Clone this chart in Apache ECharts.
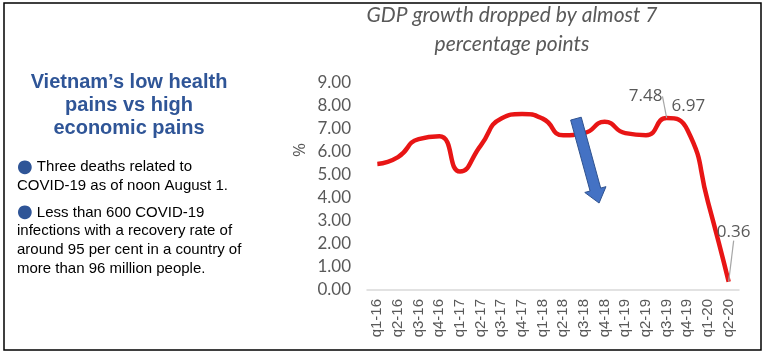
<!DOCTYPE html>
<html>
<head>
<meta charset="utf-8">
<script src="https://cdn.jsdelivr.net/npm/echarts@6/dist/echarts.min.js"></script>
<style>
  html, body { margin: 0; padding: 0; background: #fff; }
  #chart { width: 766px; height: 354px; }
</style>
</head>
<body>
<div id="chart"></div>
<script>
// quarterly GDP growth, % yoy
const quarters = ['q1-16', 'q2-16', 'q3-16', 'q4-16', 'q1-17', 'q2-17', 'q3-17', 'q4-17', 'q1-18',
  'q2-18', 'q3-18', 'q4-18', 'q1-19', 'q2-19', 'q3-19', 'q4-19', 'q1-20', 'q2-20'];
const growth = [5.48, 5.78, 6.56, 6.68, 5.15, 6.28, 7.46, 7.65, 7.45,
  6.73, 6.82, 7.31, 6.82, 6.73, 7.48, 6.97, 3.82, 0.36];
const labelled = [14, 15, 17];
// arrow annotation: [fromIndex, fromValue, toIndex, toValue]
const arrow = [[9.61, 7.45, 10.73, 3.78]];

const titleLines = ['GDP growth dropped by almost 7', 'percentage points'];
const headLines = ['Vietnam\u2019s low health', 'pains vs high', 'economic pains'];
const bulletLines = [
  ['Three deaths related to', 'COVID-19 as of noon August 1.'],
  ['Less than 600 COVID-19', 'infections with a recovery rate of', 'around 95 per cent in a country of', 'more than 96 million people.']
];

const grey = '#595959';
const blue = '#2f5597';

const graphics = [
  { type: 'rect', shape: { x: 4, y: 3, width: 757, height: 347 },
    style: { fill: 'none', stroke: '#000', lineWidth: 1.5 } }
];
titleLines.forEach((t, i) => graphics.push({
  type: 'text', x: 512, y: 15 + i * 29,
  style: { text: t, fill: grey, font: 'italic 21px Lato', textAlign: 'center', textVerticalAlign: 'middle' }
}));
headLines.forEach((t, i) => graphics.push({
  type: 'text', x: 129, y: 82 + i * 23,
  style: { text: t, fill: blue, font: 'bold 20px "Liberation Sans"', textAlign: 'center', textVerticalAlign: 'middle' }
}));
let ly = 167;
bulletLines.forEach((lines, bi) => {
  if (bi > 0) ly += 8;
  lines.forEach((t, i) => {
    graphics.push({
      type: 'text', x: 17, y: ly,
      style: {
        text: (i === 0 ? '{b|\u25CF} ' : '') + t,
        fill: '#000', font: '15px "Liberation Sans"', textVerticalAlign: 'middle',
        rich: { b: { fill: blue, font: '18px "DejaVu Sans"' } }
      }
    });
    ly += 18.7;
  });
});
graphics.push({
  type: 'text', x: 300, y: 150, rotation: Math.PI / 2,
  style: { text: '%', fill: grey, font: '17px "Open Sans"', textAlign: 'center', textVerticalAlign: 'middle' }
});

const labelOffsets = { 14: [-21, -8], 15: [1, -10], 17: [5, -36] };

const option = {
  animation: false,
  grid: { left: 367, right: 27, top: 83, bottom: 64 },
  xAxis: {
    type: 'category',
    data: quarters,
    axisLine: { lineStyle: { color: '#d9d9d9', width: 1.5 } },
    axisTick: { show: false },
    axisLabel: { rotate: 90, interval: 0, color: grey, fontSize: 15, fontFamily: 'Liberation Sans', margin: 9 }
  },
  yAxis: {
    type: 'value',
    min: 0, max: 9, interval: 1,
    splitLine: { show: false },
    axisLine: { show: false },
    axisTick: { show: false },
    axisLabel: { color: grey, fontSize: 17, fontFamily: 'Lato', margin: 16, formatter: v => v.toFixed(2) }
  },
  series: [
    {
      type: 'line',
      smooth: 0.55,
      symbol: 'circle',
      symbolSize: 0.1,
      showSymbol: true,
      itemStyle: { color: '#e81515' },
      lineStyle: { color: '#e81515', width: 4.5 },
      data: growth.map((v, i) => labelled.includes(i)
        ? { value: v, label: { show: true }, labelLine: { show: i !== 15 } }
        : v),
      label: {
        show: false, position: 'top', distance: 5,
        color: grey, fontSize: 17, fontFamily: 'Open Sans',
        formatter: p => Number(p.value).toFixed(2)
      },
      labelLine: { lineStyle: { color: '#a6a6a6', width: 1.2 } },
      labelLayout: p => {
        const o = labelOffsets[p.dataIndex];
        return o ? { dx: o[0], dy: o[1] } : {};
      },
      z: 2
    },
    {
      type: 'custom',
      data: arrow,
      z: 5,
      renderItem: (params, api) => {
        const band = api.size([1, 0])[0];
        const i0 = Math.floor(api.value(0)), i1 = Math.floor(api.value(2));
        const a = api.coord([i0, api.value(1)]);
        const b = api.coord([i1, api.value(3)]);
        a[0] += (api.value(0) - i0) * band;
        b[0] += (api.value(2) - i1) * band;
        const dx = b[0] - a[0], dy = b[1] - a[1];
        const len = Math.sqrt(dx * dx + dy * dy);
        const ux = dx / len, uy = dy / len;
        const px = -uy, py = ux;
        const bw = 5.5, hw = 11, hl = 14;
        const hx = b[0] - ux * hl, hy = b[1] - uy * hl;
        const pts = [
          [a[0] + px * bw, a[1] + py * bw],
          [hx + px * bw, hy + py * bw],
          [hx + px * hw, hy + py * hw],
          [b[0], b[1]],
          [hx - px * hw, hy - py * hw],
          [hx - px * bw, hy - py * bw],
          [a[0] - px * bw, a[1] - py * bw]
        ];
        return {
          type: 'polygon',
          shape: { points: pts },
          style: { fill: '#4472c4', stroke: '#2f528f', lineWidth: 1 }
        };
      }
    }
  ],
  graphic: graphics
};

const chart = echarts.init(document.getElementById('chart'));
chart.setOption(option);
</script>
</body>
</html>
